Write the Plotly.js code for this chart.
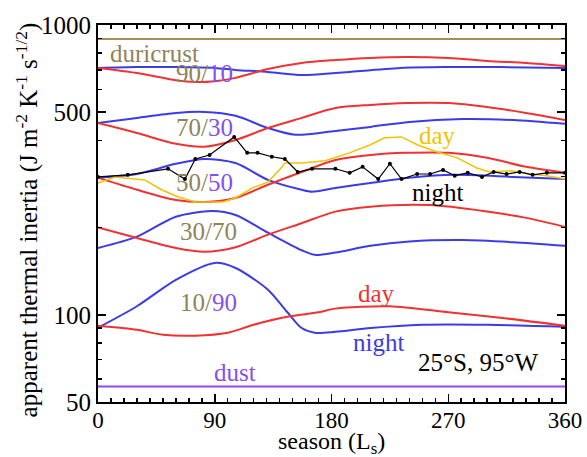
<!DOCTYPE html>
<html><head><meta charset="utf-8">
<script src="https://cdn.plot.ly/plotly-3.0.1.min.js"></script>
<style>html,body{margin:0;padding:0;background:#fff}#chart{width:587px;height:457px}</style>
</head><body><div id="chart"></div>
<script>
// ---- data (season Ls in degrees, apparent thermal inertia) ----
const duricrustLs = [0, 360];
const duricrustTI = [895, 895];
const dustLs = [0, 360];
const dustTI = [56.5, 56.5];

const m9010DayLs = [0, 30, 60, 75, 90, 106, 131, 157, 183, 210, 238, 270, 300, 330, 360];
const m9010DayTI = [711, 683, 645, 636, 640, 657, 705, 740, 757, 770, 776, 770, 751, 740, 722];
const m9010NightLs = [0, 30, 60, 90, 106, 131, 157, 183, 194, 233, 271, 310, 360];
const m9010NightTI = [711, 716, 716, 711, 700, 689, 672, 683, 689, 711, 716, 716, 711];

const m7030DayLs = [0, 30, 60, 82, 106, 131, 157, 183, 210, 238, 270, 300, 330, 360];
const m7030DayTI = [459, 424, 389, 380, 401, 441, 478, 517, 530, 538, 538, 521, 497, 470];
const m7030NightLs = [0, 30, 60, 82, 106, 131, 152, 183, 210, 240, 281, 320, 360];
const m7030NightTI = [459, 478, 497, 501, 486, 441, 418, 431, 445, 463, 474, 470, 456];

const m5050DayLs = [0, 30, 60, 82, 106, 131, 157, 183, 210, 238, 270, 300, 330, 360];
const m5050DayTI = [297, 270, 249, 245, 253, 281, 311, 342, 356, 362, 362, 348, 324, 309];
const m5050NightLs = [0, 30, 60, 82, 106, 131, 157, 165, 183, 210, 240, 275, 320, 360];
const m5050NightTI = [297, 306, 332, 345, 334, 292, 270, 266, 274, 285, 297, 304, 299, 294];

const m3070DayLs = [0, 30, 60, 82, 106, 131, 157, 183, 210, 256, 300, 330, 360];
const m3070DayTI = [200, 184, 170, 165, 171, 189, 207, 227, 236, 239, 227, 216, 201];
const m3070NightLs = [0, 30, 60, 88, 106, 131, 157, 167, 183, 210, 240, 281, 320, 360];
const m3070NightTI = [170, 186, 218, 228, 221, 192, 167, 161, 164, 173, 179, 181, 178, 173];

const m1090DayLs = [0, 30, 50, 75, 100, 120, 146, 170, 183, 225, 270, 310, 360];
const m1090DayTI = [91.6, 88.7, 85.3, 84.7, 86.7, 92.4, 98.4, 102, 105, 107, 102, 97.7, 91.6];
const m1090NightLs = [0, 30, 60, 90, 106, 131, 146, 157, 167, 183, 210, 250, 300, 360];
const m1090NightTI = [90.2, 107, 132, 151, 145, 122, 102, 90, 86.7, 87.3, 90, 92.4, 92.4, 90.9];

const obsNightLs = [0, 23, 54, 67, 75, 86, 105, 115, 123, 134, 144, 154, 165, 183, 194, 204, 216, 225, 234, 246, 256, 266, 275, 285, 296, 305, 315, 325, 335, 346, 360];
const obsNightTI = [299, 304, 319, 294, 345, 356, 411, 362, 362, 351, 345, 311, 319, 319, 309, 324, 294, 332, 294, 306, 306, 316, 302, 309, 299, 311, 306, 311, 304, 309, 309];
const obsDayLs = [0, 13, 36, 49, 62, 75, 96, 106, 119, 131, 142, 144, 157, 175, 194, 210, 221, 234, 246, 261, 277, 292, 302, 318, 333, 346, 360];
const obsDayTI = [285, 299, 292, 270, 255, 245, 245, 253, 274, 287, 324, 334, 334, 340, 362, 386, 408, 411, 386, 365, 348, 321, 311, 314, 306, 302, 294];

const xTicks = [0, 90, 180, 270, 360];
const yTicks = [50, 100, 500, 1000];
const yMinor = [60, 70, 80, 90, 200, 300, 400, 600, 700, 800, 900];

const xTitle = 'season (L<sub>s</sub>)';
const yTitle = 'apparent thermal inertia (J m<sup>-2</sup> K<sup>-1</sup> s<sup>-1/2</sup>)';

// ---- styling ----
const RED = '#f03232', BLUE = '#3c3ce6', TAN = '#a88c5a', DUSTC = '#8c4cf0', YEL = '#f0c400';
const TXT_TAN = '#8f8458', TXT_PUR = '#8450f0';
const FONT = 'Liberation Serif';

function line(x, y, color, extra) {
  return Object.assign({type: 'scatter', mode: 'lines', x: x, y: y, hoverinfo: 'skip',
    line: {color: color, width: 2, shape: 'spline', smoothing: 0.8}}, extra || {});
}

const traces = [
  line(duricrustLs, duricrustTI, TAN, {line: {color: TAN, width: 2}}),
  line(dustLs, dustTI, DUSTC, {line: {color: DUSTC, width: 2}}),
  line(m9010NightLs, m9010NightTI, BLUE), line(m9010DayLs, m9010DayTI, RED),
  line(m7030NightLs, m7030NightTI, BLUE), line(m7030DayLs, m7030DayTI, RED),
  line(m5050NightLs, m5050NightTI, BLUE), line(m5050DayLs, m5050DayTI, RED),
  line(m3070NightLs, m3070NightTI, BLUE), line(m3070DayLs, m3070DayTI, RED),
  line(m1090NightLs, m1090NightTI, BLUE), line(m1090DayLs, m1090DayTI, RED),
  {type: 'scatter', mode: 'lines', x: obsDayLs, y: obsDayTI, hoverinfo: 'skip',
   line: {color: YEL, width: 1.5}},
  {type: 'scatter', mode: 'lines+markers', x: obsNightLs, y: obsNightTI, hoverinfo: 'skip',
   line: {color: '#000', width: 1.2}, marker: {color: '#000', size: 4}},
  // invisible trace to anchor the mirrored (top/right) tick axes
  {type: 'scatter', mode: 'lines', x: [], y: [], xaxis: 'x2', yaxis: 'y2', hoverinfo: 'skip'}
];

function mix(a, b) {
  return '<span style="color:' + TXT_TAN + '">' + a + '</span><span style="color:' + TXT_PUR + '">' + b + '</span>';
}
function ann(text, x, y, color, extra) {
  return Object.assign({xref: 'paper', yref: 'paper', x: x, y: y, xanchor: 'center', yanchor: 'middle',
    showarrow: false, text: text, font: {family: FONT, size: 25, color: color || '#000'}}, extra || {});
}

const tickCommon = {ticks: 'inside', ticklen: 8, tickwidth: 1.5, tickcolor: '#000',
  showline: true, linecolor: '#000', linewidth: 2, showgrid: false, zeroline: false};

const layout = {
  width: 587, height: 457,
  margin: {l: 98, r: 22, t: 25, b: 55},
  paper_bgcolor: '#fff', plot_bgcolor: '#fff',
  showlegend: false,
  font: {family: FONT, size: 24, color: '#000'},
  xaxis: Object.assign({}, tickCommon, {
    range: [0, 360], tickmode: 'array', tickvals: xTicks, ticktext: xTicks.map(String),
    minor: {tickmode: 'linear', tick0: 0, dtick: 10, ticks: 'inside', ticklen: 4, tickcolor: '#000', showgrid: false},
    tickfont: {family: FONT, size: 23}, ticklabelstandoff: -4
  }),
  xaxis2: Object.assign({}, tickCommon, {
    overlaying: 'x', side: 'top', anchor: 'y', range: [0, 360],
    tickmode: 'array', tickvals: xTicks, showticklabels: false,
    minor: {tickmode: 'linear', tick0: 0, dtick: 10, ticks: 'inside', ticklen: 4, tickcolor: '#000', showgrid: false}
  }),
  yaxis: Object.assign({}, tickCommon, {
    type: 'log', range: [Math.log10(50), 3],
    tickmode: 'array', tickvals: yTicks, ticktext: yTicks.map(String),
    minor: {tickmode: 'array', tickvals: yMinor, ticks: 'inside', ticklen: 4, tickcolor: '#000', showgrid: false},
    tickfont: {family: FONT, size: 25}
  }),
  yaxis2: Object.assign({}, tickCommon, {
    overlaying: 'y', side: 'right', anchor: 'x', type: 'log', range: [Math.log10(50), 3],
    tickmode: 'array', tickvals: yTicks, showticklabels: false,
    minor: {tickmode: 'array', tickvals: yMinor, ticks: 'inside', ticklen: 4, tickcolor: '#000', showgrid: false}
  }),
  annotations: [
    ann(xTitle, 0.5, -0.109, '#000', {font: {family: FONT, size: 24, color: '#000'}}),
    ann(yTitle, -0.151, 0.483, '#000', {textangle: -90}),
    ann('duricrust', 0.122, 0.925, TXT_TAN),
    ann(mix('90/', '10'), 0.229, 0.871),
    ann(mix('70/', '30'), 0.229, 0.727),
    ann(mix('50/', '50'), 0.229, 0.581),
    ann('30/70', 0.236, 0.451, TXT_TAN),
    ann(mix('10/', '90'), 0.236, 0.263),
    ann('dust', 0.293, 0.077, TXT_PUR),
    ann('day', 0.726, 0.708, YEL),
    ann('night', 0.726, 0.557, '#000'),
    ann('day', 0.597, 0.289, RED),
    ann('night', 0.600, 0.159, BLUE),
    ann('25°S, 95°W', 0.814, 0.106, '#000')
  ]
};

Plotly.newPlot('chart', traces, layout, {staticPlot: true, displayModeBar: false});
</script></body></html>
